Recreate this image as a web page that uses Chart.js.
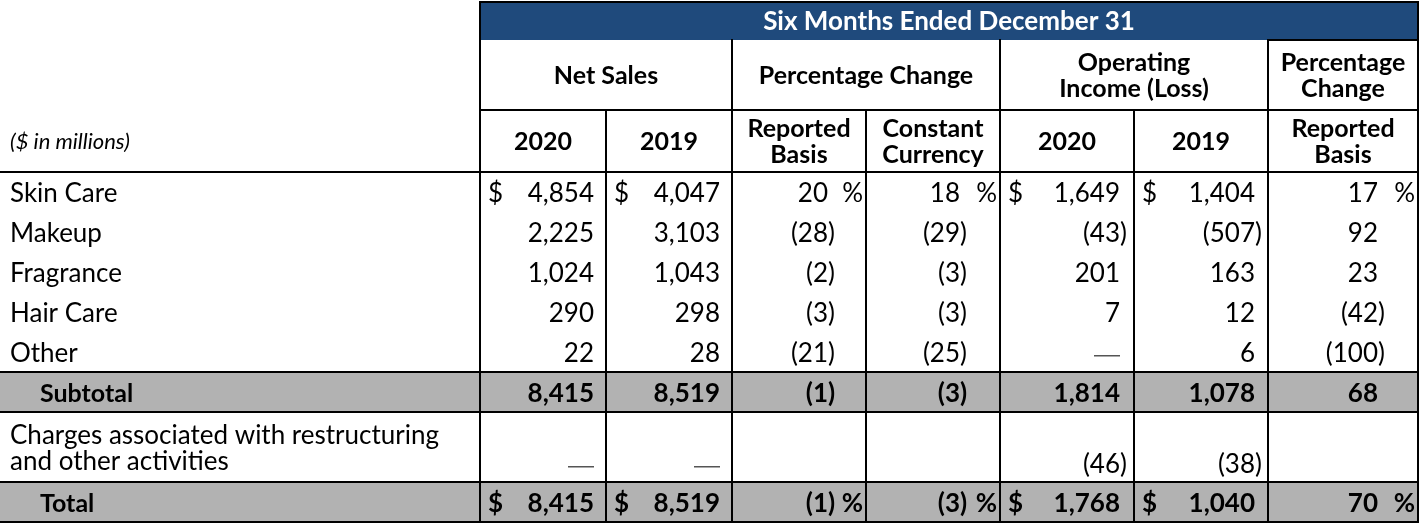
<!DOCTYPE html>
<html><head><meta charset="utf-8">
<script src="https://cdn.jsdelivr.net/npm/chart.js@4.4.0/dist/chart.umd.min.js"></script>
<style>html,body{margin:0;padding:0;background:#fff}#wrap{width:1420px;height:528px}</style>
</head><body><div id="wrap"><canvas id="c" width="1420" height="528"></canvas></div>
<script>
// ---------- data ----------
const unitLabel = "($ in millions)";
const topHeader = "Six Months Ended December 31";
const groupHeaders = ["Net Sales", "Percentage Change", "Operating\nIncome (Loss)", "Percentage\nChange"];
const columnHeaders = ["2020", "2019", "Reported\nBasis", "Constant\nCurrency", "2020", "2019", "Reported\nBasis"];
const categories = ["Skin Care", "Makeup", "Fragrance", "Hair Care", "Other", "Subtotal",
  "Charges associated with restructuring\nand other activities", "Total"];
// null = em dash, "" = blank cell
const netSales2020 = [4854, 2225, 1024, 290, 22, 8415, null, 8415];
const netSales2019 = [4047, 3103, 1043, 298, 28, 8519, null, 8519];
const pctReported = [20, -28, -2, -3, -21, -1, "", -1];
const pctConstant = [18, -29, -3, -3, -25, -3, "", -3];
const opIncome2020 = [1649, -43, 201, 7, null, 1814, -46, 1768];
const opIncome2019 = [1404, -507, 163, 12, 6, 1078, -38, 1040];
const opPctReported = [17, 92, 23, -42, -100, 68, "", 70];
const seriesList = [netSales2020, netSales2019, pctReported, pctConstant, opIncome2020, opIncome2019, opPctReported];

// ---------- layout / style ----------
const colEdges = [0, 480, 606, 732, 866, 1000, 1134, 1268, 1418];
const rowEdges = [2, 40, 110, 172, 212, 252, 292, 332, 372, 412, 482, 522];
const colKind = ["money", "money", "pct", "pct", "money", "money", "pct"];
const digitOffset = [12, 12, 38, 40, 14, 13, 40];
const boldRows = [5, 7];
const shadedRows = [5, 7];
const markRows = [0, 7];
const FONT = "Lato, 'Open Sans', sans-serif";
const BLUE = "#1f4a7c", GRAY = "#b2b2b2";

const firstDataRow = 3;
function rowTop(i) { return rowEdges[firstDataRow + i]; }
function rowBot(i) { return rowEdges[firstDataRow + i + 1]; }

const datasets = seriesList.map((vals, c) => ({
  label: columnHeaders[c].replace("\n", " "),
  data: vals.map((v, r) => ({ x: colEdges[c + 2] - digitOffset[c], y: (r === 6 ? rowBot(r) - 19 : (rowTop(r) + rowBot(r)) / 2), v })),
  pointRadius: 0, showLine: false
}));

const tablePlugin = {
  id: 'table',
  beforeDatasetsDraw(chart) {
    const ctx = chart.ctx, X = v => chart.scales.x.getPixelForValue(v), Y = v => chart.scales.y.getPixelForValue(v);
    ctx.save();
    ctx.fillStyle = BLUE;
    ctx.fillRect(X(colEdges[1]), Y(rowEdges[0]), X(colEdges[8]) - X(colEdges[1]), Y(rowEdges[1]) - Y(rowEdges[0]));
    ctx.fillStyle = GRAY;
    shadedRows.forEach(r => ctx.fillRect(X(0), Y(rowTop(r)), X(colEdges[8]) - X(0), Y(rowBot(r)) - Y(rowTop(r))));
    ctx.strokeStyle = "#000"; ctx.lineWidth = 2;
    const h = (y, x0, x1) => { ctx.beginPath(); ctx.moveTo(X(x0) - 1, Y(y)); ctx.lineTo(X(x1) + 1, Y(y)); ctx.stroke(); };
    const v = (x, y0, y1) => { ctx.beginPath(); ctx.moveTo(X(x), Y(y0) - 1); ctx.lineTo(X(x), Y(y1) + 1); ctx.stroke(); };
    h(rowEdges[0], colEdges[1], colEdges[8]);
    h(rowEdges[1], colEdges[7], colEdges[8]);
    h(rowEdges[2], colEdges[1], colEdges[8]);
    h(rowEdges[3], 0, colEdges[8]);
    [8, 9, 10, 11].forEach(i => h(rowEdges[i], 0, colEdges[8]));
    v(colEdges[1], rowEdges[0], rowEdges[11]);
    v(colEdges[8], rowEdges[0], rowEdges[11]);
    [3, 5, 7].forEach(i => v(colEdges[i], rowEdges[1], rowEdges[11]));
    [2, 4, 6].forEach(i => v(colEdges[i], rowEdges[2], rowEdges[11]));
    ctx.restore();
  },
  afterDatasetsDraw(chart) {
    const ctx = chart.ctx, X = v => chart.scales.x.getPixelForValue(v), Y = v => chart.scales.y.getPixelForValue(v);
    ctx.save();
    ctx.textBaseline = "middle";
    const multi = (text, cx, cy, lh) => {
      const lines = text.split("\n");
      lines.forEach((l, i) => ctx.fillText(l, cx, cy + (i - (lines.length - 1) / 2) * lh));
    };
    ctx.fillStyle = "#fff"; ctx.font = "bold 26px " + FONT; ctx.textAlign = "center";
    ctx.fillText(topHeader, X((colEdges[1] + colEdges[8]) / 2), Y((rowEdges[0] + rowEdges[1]) / 2) + 1);
    ctx.fillStyle = "#000"; ctx.font = "bold 25px " + FONT;
    const groups = [[1, 3], [3, 5], [5, 7], [7, 8]];
    groups.forEach((g, i) => multi(groupHeaders[i], X((colEdges[g[0]] + colEdges[g[1]]) / 2), Y((rowEdges[1] + rowEdges[2]) / 2) + 1, 26));
    columnHeaders.forEach((t, i) => multi(t, X((colEdges[i + 1] + colEdges[i + 2]) / 2), Y((rowEdges[2] + rowEdges[3]) / 2) + 1, 26));
    ctx.font = "italic 22px " + FONT; ctx.textAlign = "left";
    ctx.fillText(unitLabel, X(10), Y(142));
    categories.forEach((c, r) => {
      const bold = boldRows.includes(r);
      ctx.font = (bold ? "bold 25px " : "26px ") + FONT;
      ctx.textAlign = "left";
      multi(c, X(bold ? 40 : 10), Y((rowTop(r) + rowBot(r)) / 2) + 2, 26);
    });
    chart.data.datasets.forEach((ds, c) => {
      const meta = chart.getDatasetMeta(c);
      meta.data.forEach((pt, r) => {
        const val = ds.data[r].v;
        if (val === "") return;
        const bold = boldRows.includes(r);
        ctx.font = (bold ? "bold " : "") + "26px " + FONT;
        const px = pt.x, py = pt.y + 2;
        ctx.fillStyle = "#000";
        if (val === null) {
          ctx.fillStyle = "#555"; ctx.fillRect(px - 26, py + 1, 26, 1.5); return;
        }
        const s = Math.abs(val).toLocaleString("en-US");
        ctx.textAlign = "right"; ctx.fillText(val < 0 ? "(" + s : s, px, py);
        if (val < 0) { ctx.textAlign = "left"; ctx.fillText(")", px, py); }
        if (markRows.includes(r)) {
          if (colKind[c] === "money") { ctx.textAlign = "left"; ctx.fillText("$", X(colEdges[c + 1] + 8), py); }
          else { ctx.textAlign = "right"; ctx.fillText("%", X(colEdges[c + 2] - 3), py); }
        }
      });
    });
    ctx.restore();
  }
};

new Chart(document.getElementById("c"), {
  type: "scatter",
  data: { datasets },
  options: {
    responsive: false, animation: false, devicePixelRatio: 1,
    layout: { padding: 0 },
    plugins: { legend: { display: false }, tooltip: { enabled: false } },
    scales: {
      x: { type: "linear", min: 0, max: 1420, display: false },
      y: { type: "linear", min: 0, max: 528, reverse: true, display: false }
    }
  },
  plugins: [tablePlugin]
});
</script></body></html>
